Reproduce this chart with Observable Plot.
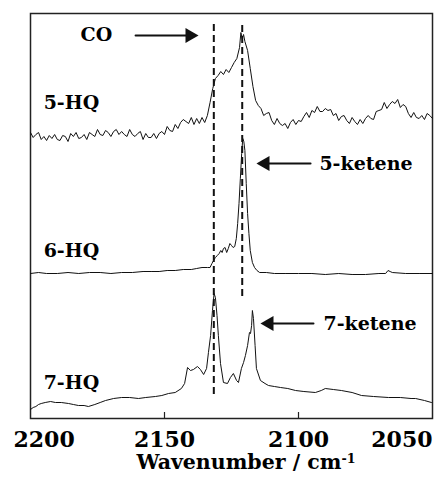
<!DOCTYPE html>
<html><head><meta charset="utf-8">
<script src="https://cdn.jsdelivr.net/npm/d3@7"></script>
<script src="https://cdn.jsdelivr.net/npm/@observablehq/plot@0.6"></script>
<style>
body{margin:0;background:#fff;}
#wrap{position:relative;width:444px;height:477px;overflow:hidden;background:#fff;}
#wrap svg{position:absolute;left:0;top:0;}
#xlabel{position:absolute;top:452px;left:246px;transform:translateX(-50%);white-space:nowrap;font-family:"DejaVu Serif",serif;font-weight:bold;font-size:20.5px;line-height:1;color:#000;}
#xlabel sup{font-size:0.62em;line-height:0;vertical-align:0.5em;}
</style></head><body>
<div id="wrap"><div id="xlabel">Wavenumber / cm<sup>-1</sup></div></div>
<script>
// x axis (wavenumber, cm-1), reversed
const xDomain = [2200, 2050];
const centerTicks = [2150, 2100];
const firstTick = [2200];
const lastTick = [2050];

// Stacked spectra: [wavenumber, stacked intensity (arb. units)]
const hq5 = [
[2200,286],[2199,281],[2198,284],[2197,286],[2196,279],[2195,282],[2194,278],[2193,283],[2192,280],[2191,284],
[2190,279],[2189,278],[2188,283],[2187,282],[2186,277],[2185,285],[2184,282],[2183,286],[2182,280],[2181,281],
[2180,284],[2179,279],[2178,286],[2177,284],[2176,282],[2175,289],[2174,284],[2173,283],[2172,288],[2171,286],
[2170,282],[2169,287],[2168,289],[2167,284],[2166,287],[2165,284],[2164,282],[2163,289],[2162,284],[2161,282],
[2160,285],[2159,287],[2158,279],[2157,285],[2156,281],[2155,281],[2154,285],[2153,280],[2152,285],[2151,287],
[2150,284],[2149,292],[2148,288],[2147,287],[2146,294],[2145,290],[2144,296],[2143,299],[2142,297],[2141,295],
[2140,301],[2139,294],[2138,300],[2137,295],[2136,301],[2135,296],[2134,303],[2133,316],[2132,330],[2131,340],
[2130,343],[2129,347],[2128,344],[2127,349],[2126,346],[2125,351],[2124,356],[2123,360],[2122,371],[2121.5,386],
[2121,380],[2120.5,384],[2120,377],[2119,368],[2118,350],[2117,332],[2116,318],[2115,313],[2114,310],[2113,303],
[2112,305],[2111,306],[2110,298],[2109,294],[2108,300],[2107,295],[2106,293],[2105,295],[2104,290],[2103,296],
[2102,299],[2101,294],[2100,298],[2099,297],[2098,302],[2097,306],[2096,301],[2095,308],[2094,306],[2093,312],
[2092,307],[2091,307],[2090,310],[2089,308],[2088,309],[2087,303],[2086,305],[2085,298],[2084,302],[2083,303],
[2082,298],[2081,295],[2080,301],[2079,297],[2078,294],[2077,299],[2076,295],[2075,300],[2074,303],[2073,300],
[2072,299],[2071,307],[2070,308],[2069,309],[2068,316],[2067,310],[2066,314],[2065,317],[2064,315],[2063,319],
[2062,311],[2061,314],[2060,312],[2059,305],[2058,301],[2057,306],[2056,301],[2055,300],[2054,303],[2053,299],
[2052,305],[2051,303],[2050,300]
];

const hq6 = [
[2200,145],[2197,146],[2194,145],[2190,145],[2186,146],[2182,145],[2178,146],[2174,146],[2170,145],[2166,146],
[2162,146],[2158,147],[2155,147],[2152,147],[2149,148],[2146,148],[2143,149],[2140,149],[2138,150],[2136,151],
[2134,151],[2133,151],[2132.3,155],[2131.7,158],[2131,161],[2130.3,163],[2129.6,165],[2129,168],[2128.5,166],
[2128,170],[2127.4,171],[2126.8,166],[2126.2,170],[2125.6,175],[2125,173],[2124.4,171],[2123.8,172],[2123.2,180],
[2122.7,195],[2122.2,215],[2121.7,240],[2121.2,265],[2120.8,280],[2120.4,277],[2120,268],[2119.5,235],[2119,205],
[2118.5,185],[2118,168],[2117.2,156],[2116.4,151],[2115.5,148],[2114.5,146],[2112,146],[2109,145],[2105,145],
[2100,145],[2095,145],[2090,144],[2085,145],[2080,144],[2075,144],[2070,145],[2067.5,145],[2066.6,148],[2065.8,147],
[2065,146],[2060,145],[2055,145],[2050,145]
];

const hq7 = [
[2200,9],[2199,11],[2198,12],[2197,14],[2196,15],[2194.5,16],[2192.5,17],[2190.7,16],[2188.5,16],[2185.8,15],
[2184,14],[2182.1,13],[2180,13],[2178.4,12],[2176,14],[2174,16],[2172,18],[2169,20],[2166,21],[2163,21],
[2159.7,20],[2157,21],[2153.4,22],[2151,23],[2148.5,25],[2146,26],[2143.7,30],[2142.5,35],[2141.4,51],[2140.3,48],
[2139.2,49],[2137.7,52],[2136.6,49],[2135.4,44],[2134.3,50],[2133.6,66],[2132.8,83],[2132.1,108],[2131.5,125],
[2131,121],[2130.4,103],[2129.9,83],[2129.1,55],[2128,36],[2126.5,35],[2125.4,41],[2124.3,45],[2123.1,38],
[2122.4,36],[2121.3,50],[2120.5,56],[2119.8,63],[2119,73],[2118.3,86],[2117.9,85],[2117.5,93],[2117.2,108],
[2116.8,100],[2116.2,73],[2115.7,50],[2114.2,38],[2112.5,35],[2111.2,33],[2109,32],[2106.7,31],[2104,30],
[2101.1,28],[2098,27],[2093.7,26],[2091.5,28],[2090,30],[2087,29],[2084,28],[2080,26],[2076.5,23],[2072,22],
[2066.4,21],[2062,21],[2058,20],[2056.3,20],[2053,18],[2050.4,16]
];

const spectra = [hq5, hq6, hq7];

// Reference lines (dashed)
const dashX = [2131.6, 2121.0];
const dashTop = [395, 395];
const dashBottom = [24, 122];

// Trace labels
const labelText = ["5-HQ", "6-HQ", "7-HQ", "CO", "5-ketene", "7-ketene"];
const labelX = [2195.1, 2195.1, 2195.1, 2181.3, 2092.2, 2090.7];
const labelY = [316, 168, 36, 384, 255, 95];

// Arrows: tail -> tip
const arrowTail = [2160.8, 2095.5, 2094.4];
const arrowTip = [2137.3, 2115.7, 2114.2];
const arrowY = [383, 255, 95];
const arrowDir = ["right", "left", "left"];

const dashes = dashX.map((x, i) => ({x, y1: dashBottom[i], y2: dashTop[i]}));
const labels = labelText.map((t, i) => ({t, x: labelX[i], y: labelY[i]}));
const arrows = arrowTail.map((x1, i) => ({x1, x2: arrowTip[i], y: arrowY[i], dir: arrowDir[i]}));

const ink = "#111";
const tickOpts = {tickSize: 0, tickPadding: 13, fontSize: 22, label: null, tickFormat: d => String(d)};
const plot = Plot.plot({
  width: 444, height: 456,
  marginLeft: 30, marginRight: 12, marginTop: 13, marginBottom: 38,
  x: {domain: xDomain},
  y: {domain: [0, 405], axis: null},
  style: {fontFamily: '"DejaVu Serif", serif', fontWeight: "bold", background: "transparent", color: "#000"},
  marks: [
    Plot.frame({stroke: "#222", strokeWidth: 1.5}),
    Plot.ruleX(centerTicks, {stroke: "#222", strokeWidth: 1.2, insetTop: 399}),
    Plot.axisX({...tickOpts, ticks: centerTicks}),
    Plot.axisX({...tickOpts, ticks: firstTick, textAnchor: "start", dx: -17}),
    Plot.axisX({...tickOpts, ticks: lastTick, textAnchor: "end"}),
    Plot.ruleX(dashes, {x: "x", y1: "y1", y2: "y2", stroke: ink, strokeWidth: 2, strokeDasharray: "7,4"}),
    ...spectra.map(s => Plot.line(s, {x: d => d[0], y: d => d[1], stroke: ink, strokeWidth: 1})),
    Plot.text(labels, {x: "x", y: "y", text: "t", textAnchor: "start", fontSize: 19, fontWeight: "bold", fill: "#000"}),
    Plot.arrow(arrows, {x1: "x1", x2: "x2", y1: "y", y2: "y", headLength: 0, insetEnd: 9, stroke: ink, strokeWidth: 2}),
    Plot.dot(arrows.filter(d => d.dir === "right"), {x: "x2", y: "y", symbol: "triangle", r: 5.6, fill: ink, stroke: null, rotate: 90, dx: -8.7}),
    Plot.dot(arrows.filter(d => d.dir === "left"), {x: "x2", y: "y", symbol: "triangle", r: 5.6, fill: ink, stroke: null, rotate: -90, dx: 8.7})
  ]
});
document.getElementById("wrap").prepend(plot);
</script>
</body></html>
